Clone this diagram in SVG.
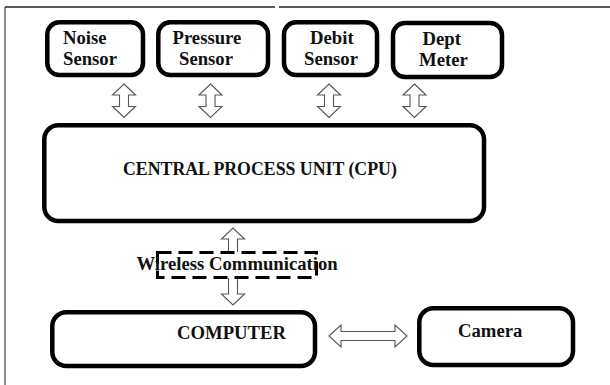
<svg xmlns="http://www.w3.org/2000/svg" width="610" height="385" viewBox="0 0 610 385">
  <style>
    .box { fill: #ffffff; stroke: #000000; stroke-width: 4.5; }
    .arrow { fill: #ffffff; stroke: #555555; stroke-width: 1.1; stroke-linejoin: miter; }
    .lbl { font-family: "Liberation Serif", "Times New Roman", serif; font-weight: bold; font-size: 18.7px; fill: #111111; }
    .frame { stroke: #222222; fill: none; }
    .dash { fill: none; stroke: #000000; stroke-width: 3; stroke-dasharray: 14 7; }
  </style>
  <defs>
    <path id="varrow" d="M0,0 L11.5,11 L4.5,11 L4.5,22.5 L11.5,22.5 L0,33.5 L-11.5,22.5 L-4.5,22.5 L-4.5,11 L-11.5,11 Z"/>
  </defs>
  <rect width="610" height="385" fill="#ffffff"/>

  <g id="frame">
    <line class="frame" x1="5" y1="7" x2="275" y2="7" stroke-width="1.6"/>
    <line class="frame" x1="279" y1="7" x2="610" y2="7" stroke-width="1.6"/>
    <line class="frame" x1="5" y1="7" x2="5" y2="385" stroke-width="1"/>
  </g>

  <g id="connectors">
    <use href="#varrow" class="arrow" transform="translate(124,84)"/>
    <use href="#varrow" class="arrow" transform="translate(210.5,84)"/>
    <use href="#varrow" class="arrow" transform="translate(329,84)"/>
    <use href="#varrow" class="arrow" transform="translate(414.5,84)"/>
    <path class="arrow" d="M228.5,252 V239 H221.5 L233,228 L244.5,239 H237.5 V252"/>
    <path class="arrow" d="M228.5,278 V294 H221.5 L233,305 L244.5,294 H237.5 V278"/>
    <path class="arrow" d="M329,336 L341,325 V331.5 H395 V325 L407,336 L395,347 V340.5 H341 V347 Z"/>
  </g>

  <g id="noise-sensor">
    <rect class="box" x="47.3" y="22.3" width="95.7" height="52.7" rx="12"/>
    <text class="lbl" x="63" y="44">Noise</text>
    <text class="lbl" x="63" y="65">Sensor</text>
  </g>
  <g id="pressure-sensor">
    <rect class="box" x="158.3" y="22.3" width="109.7" height="52.7" rx="12"/>
    <text class="lbl" x="172.5" y="43.5">Pressure</text>
    <text class="lbl" x="179" y="65">Sensor</text>
  </g>
  <g id="debit-sensor">
    <rect class="box" x="284" y="22.3" width="93" height="52.7" rx="12"/>
    <text class="lbl" x="310" y="43.5">Debit</text>
    <text class="lbl" x="304" y="65">Sensor</text>
  </g>
  <g id="dept-meter">
    <rect class="box" x="393" y="23" width="109" height="54" rx="12"/>
    <text class="lbl" x="422.5" y="45">Dept</text>
    <text class="lbl" x="419" y="66">Meter</text>
  </g>

  <g id="cpu">
    <rect class="box" x="44.3" y="125.3" width="439.7" height="95.7" rx="14"/>
    <text class="lbl" x="123" y="175" style="font-size:17.8px">CENTRAL PROCESS UNIT (CPU)</text>
  </g>

  <g id="wireless">
    <rect class="dash" x="157.5" y="252.5" width="159" height="25"/>
    <text class="lbl" x="136.5" y="270">Wireless Communication</text>
  </g>

  <g id="computer">
    <rect class="box" x="52.3" y="312.3" width="262.7" height="53.7" rx="14"/>
    <text class="lbl" x="177" y="339">COMPUTER</text>
  </g>

  <g id="camera">
    <rect class="box" x="419.3" y="308.3" width="153.7" height="56.7" rx="14"/>
    <text class="lbl" x="458" y="337">Camera</text>
  </g>
</svg>
